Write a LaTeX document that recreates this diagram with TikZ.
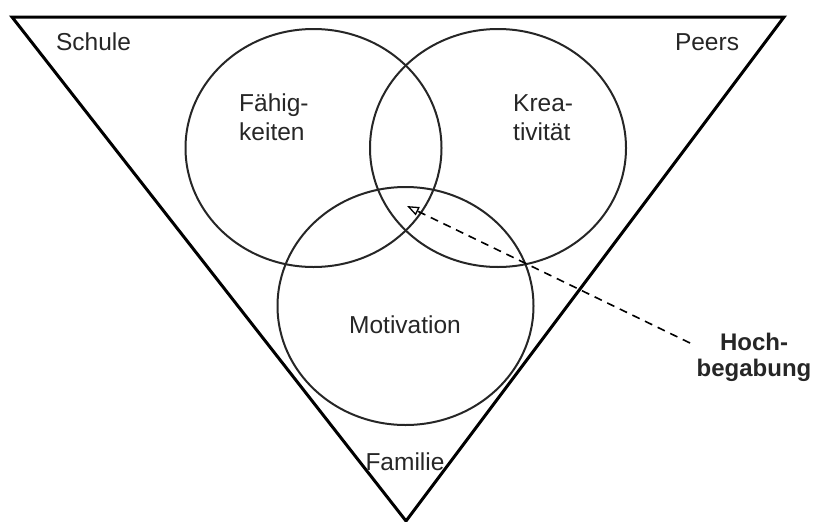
\documentclass[tikz,border=0pt]{standalone}
\usepackage{fontspec}
\setmainfont{Liberation Sans}
\usetikzlibrary{shapes.geometric,arrows.meta}
\begin{document}
\begin{tikzpicture}[x=1pt,y=-1pt,
  ring/.style={draw=black!85, line width=2pt, ellipse, minimum width=256pt, minimum height=238pt, inner sep=0pt},
  lbl/.style={font=\fontsize{24.5}{29}\selectfont, text=black!85, inner sep=0pt},
  lbll/.style={lbl, align=left},
  lblc/.style={lbl, align=center},
  frame/.style={line width=3pt, line join=miter},
  pointer/.style={dashed, dash pattern=on 8pt off 6pt, line width=1.6pt, -{Triangle[open, length=12pt, width=9pt, line width=1.3pt]}}
]
\useasboundingbox (0,0) rectangle (814,522);
\coordinate (tl) at (12,17);
\coordinate (tr) at (784,17);
\coordinate (bt) at (406,521);
\draw[frame] (tl) -- (tr) -- (bt) -- cycle;

\node[ring] (faeh) at (313.5,148) {};
\node[ring] (krea) at (498,148) {};
\node[ring] (moti) at (405.5,306) {};

\node[lbl] (schule) at (93.5,42) {Schule};
\node[lbl] (peers) at (707,42) {Peers};
\node[lbll, anchor=west] (tfaeh) at (239,117.5) {Fähig-\\keiten};
\node[lbll, anchor=west] (tkrea) at (513,117.5) {Krea-\\tivität};
\node[lbl] (tmoti) at (405,325) {Motivation};
\node[lbl] (fam) at (405,462) {Familie};
\node[lblc, font=\fontsize{24}{26}\selectfont\bfseries] (hoch) at (754,357) {Hoch-\\begabung};

\coordinate (tip) at (407,206);
\coordinate (tail) at (690,343);
\draw[pointer] (tail) -- (tip);
\end{tikzpicture}
\end{document}
